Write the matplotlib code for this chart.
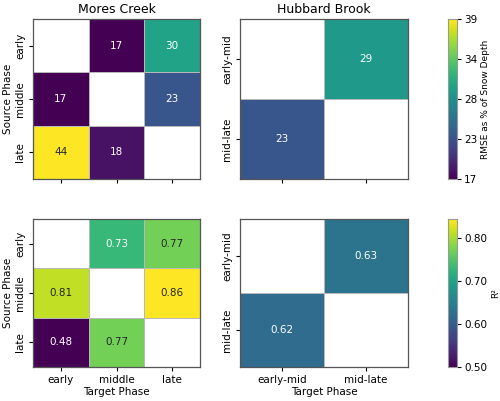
import numpy as np
import matplotlib.pyplot as plt
import seaborn as sns

nan = np.nan

# source phase (rows) x target phase (cols)
mores_phases = ['early', 'middle', 'late']
hubbard_phases = ['early-mid', 'mid-late']

mores_rmse = [[nan, 17, 30],
              [17, nan, 23],
              [44, 18, nan]]
hubbard_rmse = [[nan, 29],
                [23, nan]]

mores_r2 = [[nan, 0.73, 0.77],
            [0.81, nan, 0.86],
            [0.48, 0.77, nan]]
hubbard_r2 = [[nan, 0.63],
              [0.62, nan]]

rmse_range = (17, 39.4)
r2_range = (0.50, 0.843)

fig = plt.figure(figsize=(5, 4.01), dpi=100)

ax_tl = fig.add_axes([0.066, 0.5536, 0.334, 0.399])
ax_tr = fig.add_axes([0.48, 0.5536, 0.336, 0.399])
cax_t = fig.add_axes([0.896, 0.5536, 0.018, 0.399])
ax_bl = fig.add_axes([0.066, 0.0848, 0.334, 0.369])
ax_br = fig.add_axes([0.48, 0.0848, 0.336, 0.369])
cax_b = fig.add_axes([0.896, 0.0848, 0.018, 0.369])


def draw(ax, data, labels, rng, fmt, cbar_ax=None):
    sns.heatmap(np.array(data), ax=ax, cmap='viridis', vmin=rng[0], vmax=rng[1],
                annot=True, fmt=fmt, annot_kws={'fontsize': 7.5},
                linewidths=0.6, linecolor='#b8b8b8',
                cbar=cbar_ax is not None, cbar_ax=cbar_ax,
                xticklabels=labels, yticklabels=labels)
    for s in ax.spines.values():
        s.set_visible(True)
        s.set_edgecolor('#555555')
        s.set_linewidth(0.9)
    ax.tick_params(labelsize=7.5, length=3, pad=2.5)
    ax.set_yticklabels(labels, rotation=90, va='center')


draw(ax_tl, mores_rmse, mores_phases, rmse_range, '.0f')
draw(ax_tr, hubbard_rmse, hubbard_phases, rmse_range, '.0f', cax_t)
draw(ax_bl, mores_r2, mores_phases, r2_range, '.2f')
draw(ax_br, hubbard_r2, hubbard_phases, r2_range, '.2f', cax_b)

for ax in (ax_tl, ax_tr):
    ax.set_xticklabels([])
for ax in (ax_bl, ax_br):
    ax.set_xlabel('Target Phase', fontsize=7.5, labelpad=2)
for ax in (ax_tl, ax_bl):
    ax.set_ylabel('Source Phase', fontsize=7.5, labelpad=2)

ax_tl.set_title('Mores Creek', fontsize=9, pad=4)
ax_tr.set_title('Hubbard Brook', fontsize=9, pad=4)

cax_t.set_yticks(np.linspace(rmse_range[0], rmse_range[1], 5))
cax_t.yaxis.set_major_formatter(plt.FormatStrFormatter('%.0f'))
cax_t.set_ylabel('RMSE as % of Snow Depth', fontsize=6.5, labelpad=3)
cax_b.set_yticks([0.5, 0.6, 0.7, 0.8])
cax_b.yaxis.set_major_formatter(plt.FormatStrFormatter('%.2f'))
cax_b.set_ylabel('R²', fontsize=6.5, labelpad=3)
for cax in (cax_t, cax_b):
    cax.tick_params(labelsize=7.5, length=3, pad=2)
    for s in cax.spines.values():
        s.set_visible(True)
        s.set_edgecolor('#999999')

fig.savefig('out.png', dpi=100)
